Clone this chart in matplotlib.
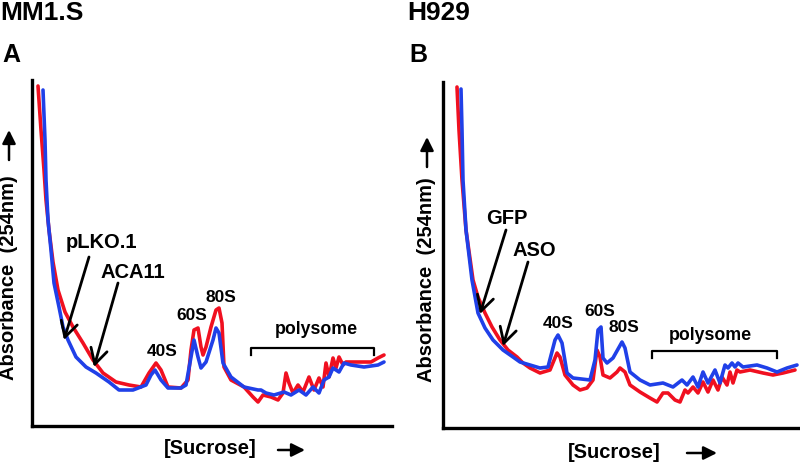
import matplotlib
matplotlib.use("Agg")
import matplotlib.pyplot as plt
from matplotlib.patches import FancyArrowPatch

plt.rcParams['font.family'] = ['Liberation Sans', 'DejaVu Sans']
plt.rcParams['font.weight'] = 'bold'

# ---------------- data (position along gradient, absorbance in arbitrary units) ----
# Panel A: MM1.S
a_red_x = [6, 9, 12, 14, 17, 21, 26, 33, 41, 51, 61, 71, 84, 97, 109, 117, 124, 129, 136, 149, 156, 159, 162, 166,
           169, 171, 174, 179, 184, 187, 190, 192, 199, 212, 221, 226, 231, 239, 246, 251, 254, 257, 261, 266, 271,
           277, 282, 287, 291, 294, 297, 301, 304, 307, 311, 314, 319, 339, 346, 352]
a_red_y = [340, 296, 256, 226, 196, 164, 136, 114, 99, 83, 66, 53, 44, 41, 39, 53, 63, 56, 39, 38, 46, 76, 96, 98,
           79, 71, 79, 99, 116, 118, 103, 59, 46, 39, 29, 24, 31, 29, 26, 33, 53, 43, 33, 41, 34,
           49, 36, 48, 39, 63, 49, 68, 58, 69, 61, 64, 64, 64, 68, 71]
a_blue_x = [11, 13, 14, 16, 19, 22, 27, 31, 36, 44, 54, 64, 77, 87, 101, 114, 119, 123, 129, 136, 149, 154, 159, 162,
            166, 169, 174, 181, 184, 187, 191, 199, 212, 226, 229, 234, 242, 252, 259, 267, 274, 281, 287, 292, 297,
            301, 307, 312, 319, 332, 346, 352]
a_blue_y = [336, 286, 246, 206, 176, 143, 119, 99, 86, 69, 59, 53, 44, 36, 36, 41, 51, 56, 46, 38, 38, 41, 69, 86,
            69, 58, 64, 86, 98, 93, 63, 49, 39, 36, 36, 33, 31, 34, 31, 36, 31, 39, 33, 46, 49,
            58, 54, 63, 61, 59, 61, 64]

# Panel B: H929
b_red_x = [14, 16, 19, 23, 30, 35, 42, 49, 57, 65, 74, 80, 87, 97, 107, 114, 117, 122, 130, 137, 144, 150, 154, 157,
           160, 167, 174, 177, 182, 187, 197, 207, 214, 220, 225, 232, 237, 242, 245, 250, 255, 260, 265, 270, 275,
           279, 284, 287, 290, 294, 297, 307, 320, 330, 340, 352]
b_red_y = [341, 298, 248, 198, 148, 131, 115, 101, 88, 78, 71, 65, 60, 55, 58, 75, 71, 53, 43, 38, 40, 48, 78, 71,
           53, 50, 56, 60, 56, 43, 36, 30, 26, 35, 35, 28, 26, 38, 35, 41, 35, 46, 36, 48, 38,
           51, 43, 56, 45, 58, 56, 58, 55, 53, 55, 58]
b_blue_x = [18, 19, 20, 23, 29, 35, 42, 50, 60, 70, 77, 87, 97, 105, 112, 115, 119, 124, 130, 147, 152, 155, 158, 160,
            164, 170, 179, 182, 187, 197, 207, 220, 230, 239, 244, 250, 255, 260, 265, 272, 277, 282, 285, 289, 292,
            295, 300, 314, 324, 334, 344, 354]
b_blue_y = [339, 298, 248, 198, 148, 115, 100, 88, 78, 71, 66, 63, 60, 61, 88, 93, 85, 55, 50, 48, 68, 98, 101, 70,
            65, 70, 86, 80, 56, 48, 43, 45, 41, 48, 43, 51, 41, 56, 45, 58, 45, 63, 60, 65, 61,
            65, 61, 63, 60, 56, 60, 63]

panel_titles = ["MM1.S", "H929"]
panel_letters = ["A", "B"]
peak_labels = ["40S", "60S", "80S"]
arrow_labels_a = ["pLKO.1", "ACA11"]
arrow_labels_b = ["GFP", "ASO"]

RED = '#f01020'
BLUE = '#2040e8'

W, H = 800, 463
fig = plt.figure(figsize=(8, 4.63), dpi=100)


def fx(px):
    return px / W


def fy(py):
    return 1 - py / H


def make_ax(left, right, top, bottom, xmax):
    ax = fig.add_axes([fx(left), fy(bottom), (right - left) / W, (bottom - top) / H])
    ax.set_xlim(0, xmax)
    ax.set_ylim(0, bottom - top)
    for s in ['top', 'right']:
        ax.spines[s].set_visible(False)
    for s in ['left', 'bottom']:
        ax.spines[s].set_linewidth(2.4)
        ax.spines[s].set_color('black')
    ax.set_xticks([])
    ax.set_yticks([])
    ax.patch.set_alpha(0)
    return ax


axA = make_ax(32, 392, 80, 426, 360)
axB = make_ax(443, 800, 82, 428, 357)

LW = 2.6
for ax, rx, ry, bx, by in [(axA, a_red_x, a_red_y, a_blue_x, a_blue_y),
                           (axB, b_red_x, b_red_y, b_blue_x, b_blue_y)]:
    ax.plot(rx, ry, color=RED, lw=LW, solid_joinstyle='round', solid_capstyle='round', zorder=3)
    ax.plot(bx, by, color=BLUE, lw=LW, solid_joinstyle='round', solid_capstyle='round', zorder=3)

arrow_kw = dict(arrowstyle='->,head_length=0.55,head_width=0.3', lw=2.0, color='black', mutation_scale=20,
                shrinkA=0, shrinkB=0)

# Panel A annotations
axA.text(69, 183, arrow_labels_a[0], fontsize=14.5, ha='center', va='center', fontweight='bold')
axA.annotate('', xy=(32, 86), xytext=(57, 169), arrowprops=arrow_kw, zorder=5)
axA.text(101, 154, arrow_labels_a[1], fontsize=14.5, ha='center', va='center', fontweight='bold')
axA.annotate('', xy=(62, 59), xytext=(86, 143), arrowprops=arrow_kw, zorder=5)
for lab, (x, y) in zip(peak_labels, [(130, 74), (160, 110), (189, 128)]):
    axA.text(x, y, lab, fontsize=12.5, ha='center', va='center', fontweight='bold')
axA.text(284, 97, "polysome", fontsize=12.8, ha='center', va='center', fontweight='bold')
axA.plot([219, 219, 342, 342], [71, 78, 78, 71], color='black', lw=1.6, clip_on=False)

# Panel B annotations
axB.text(64, 209, arrow_labels_b[0], fontsize=14.5, ha='center', va='center', fontweight='bold')
axB.annotate('', xy=(37, 114), xytext=(63, 198), arrowprops=arrow_kw, zorder=5)
axB.text(91, 178, arrow_labels_b[1], fontsize=14.5, ha='center', va='center', fontweight='bold')
axB.annotate('', xy=(60, 82), xytext=(85, 166), arrowprops=arrow_kw, zorder=5)
for lab, (x, y) in zip(peak_labels, [(115, 104), (157, 116), (181, 100)]):
    axB.text(x, y, lab, fontsize=12.5, ha='center', va='center', fontweight='bold')
axB.text(267, 92, "polysome", fontsize=12.8, ha='center', va='center', fontweight='bold')
axB.plot([209, 209, 334, 334], [70, 77, 77, 70], color='black', lw=1.6, clip_on=False)

# Titles and panel letters
fig.text(fx(0), fy(19.5), panel_titles[0], fontsize=19, fontweight='bold', ha='left', va='baseline')
fig.text(fx(2), fy(62), panel_letters[0], fontsize=18, fontweight='bold', ha='left', va='baseline')
fig.text(fx(407), fy(20), panel_titles[1], fontsize=19, fontweight='bold', ha='left', va='baseline')
fig.text(fx(409), fy(62), panel_letters[1], fontsize=18, fontweight='bold', ha='left', va='baseline')

# Axis labels with arrows
fig_arrow = dict(arrowstyle='-|>,head_length=0.5,head_width=0.25', lw=1.8, color='black', mutation_scale=16,
                 shrinkA=0, shrinkB=0)
for xl, yc, ytop, ybot in [(9, 278, 130, 160), (427, 280, 137, 167)]:
    fig.text(fx(xl), fy(yc), "Absorbance  (254nm)", rotation=90, fontsize=14.5, fontweight='bold',
             ha='center', va='center')
    fig.add_artist(FancyArrowPatch((fx(xl), fy(ybot)), (fx(xl), fy(ytop)),
                                   transform=fig.transFigure, **fig_arrow))

for xc, yc, x0, x1 in [(210, 449, 278, 305), (614, 452, 687, 717)]:
    fig.text(fx(xc), fy(yc), "[Sucrose]", fontsize=14.5, fontweight='bold', ha='center', va='center')
    fig.add_artist(FancyArrowPatch((fx(x0), fy(yc + 1)), (fx(x1), fy(yc + 1)),
                                   transform=fig.transFigure, **fig_arrow))

fig.savefig("out.png", dpi=100, facecolor='white')
